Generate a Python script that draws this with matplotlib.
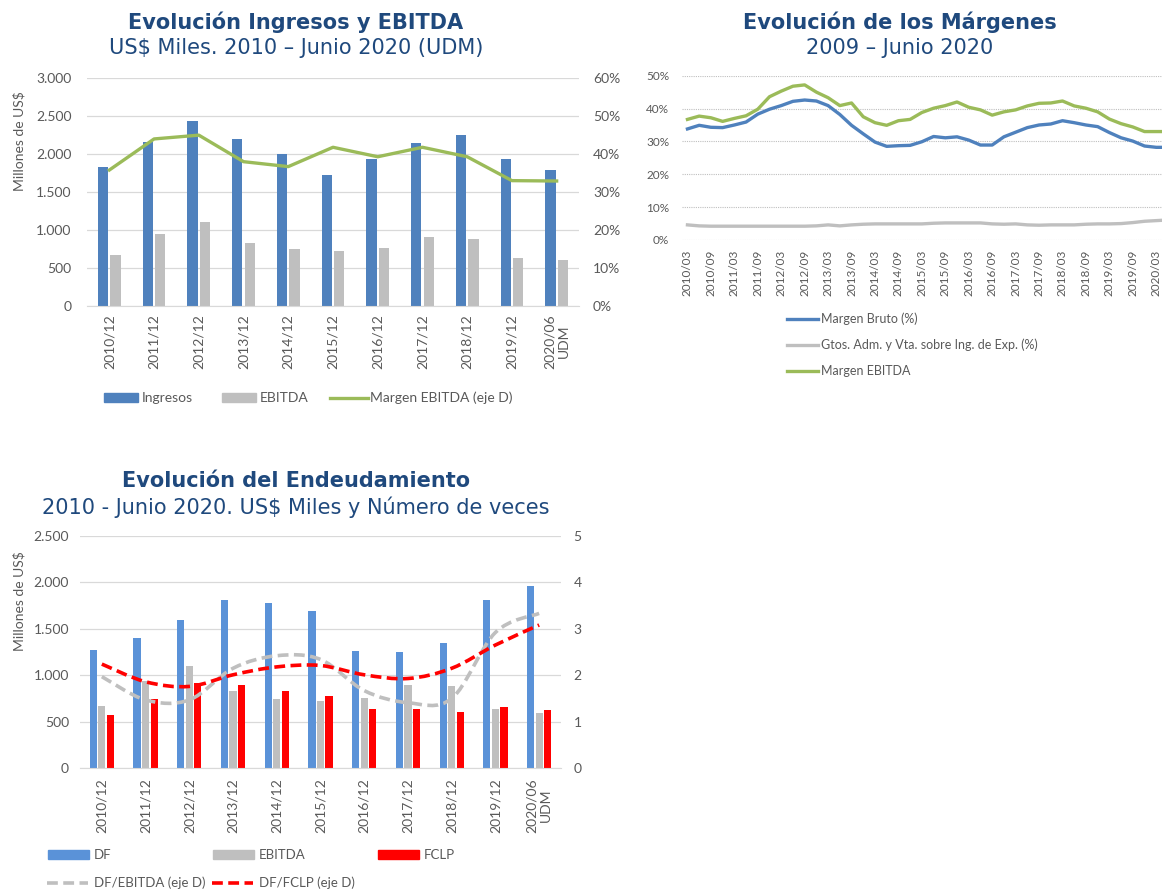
import numpy as np
import matplotlib
matplotlib.use("Agg")
from matplotlib import pyplot as plt
from matplotlib.path import Path
from matplotlib.patches import PathPatch, Patch
from matplotlib.lines import Line2D
from matplotlib.ticker import FuncFormatter

# --- data -------------------------------------------------------------
anios = ["2010/12", "2011/12", "2012/12", "2013/12", "2014/12", "2015/12",
         "2016/12", "2017/12", "2018/12", "2019/12", "2020/06\nUDM"]
ingresos = [1824, 2160, 2435, 2202, 2004, 1723, 1930, 2150, 2255, 1934, 1793]
ebitda = [667, 940, 1098, 830, 742, 720, 755, 900, 883, 632, 597]
margen_ebitda = [35.8, 44.0, 45.0, 38.0, 36.7, 41.8, 39.3, 41.8, 39.3, 33.0, 32.9]

trimestres = [f"{y}/{m:02d}" for y in range(2010, 2021) for m in (3, 6, 9, 12)][:42]
margen_bruto_q = [33.8, 34.9, 34.3, 34.2, 35.0, 35.9, 38.3, 39.8, 40.9, 42.2,
                  42.6, 42.3, 40.9, 38.2, 34.9, 32.3, 29.8, 28.5, 28.7, 28.8,
                  29.9, 31.5, 31.1, 31.4, 30.4, 28.9, 28.9, 31.4, 32.8, 34.2,
                  35.0, 35.3, 36.3, 35.7, 35.0, 34.5, 32.7, 31.1, 30.1, 28.6,
                  28.2, 28.2]
gtos_adm_q = [4.6, 4.3, 4.2, 4.2, 4.2, 4.2, 4.2, 4.2, 4.2, 4.2,
              4.2, 4.3, 4.6, 4.3, 4.6, 4.8, 4.9, 4.9, 4.9, 4.9,
              4.9, 5.1, 5.2, 5.2, 5.2, 5.2, 4.9, 4.8, 4.9, 4.6,
              4.5, 4.6, 4.6, 4.6, 4.8, 4.9, 4.9, 5.0, 5.3, 5.7,
              5.9, 6.1]
margen_ebitda_q = [36.7, 37.7, 37.2, 36.1, 37.0, 37.8, 39.8, 43.6, 45.3, 46.8,
                   47.2, 45.0, 43.3, 40.9, 41.7, 37.5, 35.7, 34.9, 36.3, 36.7,
                   38.8, 40.1, 40.9, 42.0, 40.4, 39.6, 38.0, 39.0, 39.6, 40.8,
                   41.6, 41.7, 42.3, 40.8, 40.1, 39.0, 36.8, 35.4, 34.4, 33.0,
                   33.0, 33.0]

deuda_fin = [1276, 1401, 1591, 1809, 1781, 1688, 1261, 1251, 1347, 1809, 1956]
fclp = [570, 740, 918, 896, 828, 774, 638, 638, 610, 663, 624]
df_ebitda = [1.97, 1.47, 1.47, 2.15, 2.42, 2.34, 1.67, 1.41, 1.50, 2.92, 3.33]
df_fclp = [2.24, 1.86, 1.76, 2.01, 2.18, 2.21, 2.01, 1.93, 2.15, 2.65, 3.08]

# --- style ------------------------------------------------------------
TXT = "#595959"
TITLE = "#1F497D"
BLUE = "#4F81BD"
BLUE2 = "#5A92D8"
GRAY = "#BFBFBF"
GREEN = "#9BBB59"
RED = "#FF0000"
GRID = "#D9D9D9"
DASH = (0, (3, 1.5))

plt.rcParams["font.family"] = ["Lato", "DejaVu Sans"]

W, H = 1162, 890
fig = plt.figure(figsize=(W / 100, H / 100), dpi=100)


def px_axes(left, top, right, bottom):
    return fig.add_axes([left / W, 1 - bottom / H, (right - left) / W, (bottom - top) / H])


def miles(v, _):
    return f"{v:,.0f}".replace(",", ".")


def smooth_path(xv, yv):
    """Catmull-Rom curve through the points, as cubic Bezier segments."""
    pts = np.column_stack([xv, yv]).astype(float)
    ext = np.vstack([pts[0], pts, pts[-1]])
    verts = [pts[0]]
    codes = [Path.MOVETO]
    for i in range(len(pts) - 1):
        p0, p1, p2, p3 = ext[i], ext[i + 1], ext[i + 2], ext[i + 3]
        verts += [p1 + (p2 - p0) / 6, p2 - (p3 - p1) / 6, p2]
        codes += [Path.CURVE4] * 3
    return Path(verts, codes)


def add_entry(handle, label, x, y, size=10, hl=2.5, pad=0.3):
    fig.legend(handles=[handle], labels=[label], loc="center left",
               bbox_to_anchor=(x / W, 1 - y / H), frameon=False, fontsize=size,
               handlelength=hl, handleheight=0.6, handletextpad=pad,
               borderpad=0, borderaxespad=0, labelcolor=TXT)


def title(x, y, text, bold):
    fig.text(x / W, 1 - y / H, text, ha="center", va="center", fontsize=15,
             color=TITLE, family="DejaVu Sans",
             fontweight="bold" if bold else "normal")


def clean(ax, bottom=True):
    for side in ["top", "left", "right"]:
        ax.spines[side].set_visible(False)
    ax.spines["bottom"].set_visible(bottom)
    ax.spines["bottom"].set_color(GRID)


# --- chart 1: ingresos y ebitda ---------------------------------------
title(296, 22, "Evolución Ingresos y EBITDA", True)
title(296, 48, "US$ Miles. 2010 – Junio 2020 (UDM)", False)

ax1 = px_axes(87, 78.3, 579, 305.7)
x = np.arange(len(anios))
ax1.bar(x - 0.14, ingresos, 0.23, color=BLUE, zorder=2)
ax1.bar(x + 0.14, ebitda, 0.23, color=GRAY, zorder=2)
ax1.set_xlim(-0.5, len(anios) - 0.5)
ax1.set_ylim(0, 3000)
ax1.set_yticks(np.arange(0, 3001, 500))
ax1.yaxis.set_major_formatter(FuncFormatter(miles))
ax1.grid(axis="y", color=GRID, lw=0.9, zorder=0)
ax1.set_axisbelow(True)
ax1.set_xticks(x, labels=anios, rotation=90)
for lbl in ax1.get_xticklabels():
    lbl.set_multialignment("center")
ax1.tick_params(axis="y", length=0, labelsize=10, colors=TXT, pad=11)
ax1.tick_params(axis="x", length=0, labelsize=10, colors=TXT, pad=6)
clean(ax1)

ax1b = ax1.twinx()
ax1b.plot(x, np.array(margen_ebitda) / 100, color=GREEN, lw=2.4, zorder=3)
ax1b.set_ylim(0, 0.6)
ax1b.set_yticks(np.arange(0, 0.61, 0.1))
ax1b.yaxis.set_major_formatter(FuncFormatter(lambda v, _: f"{v:.0%}"))
ax1b.tick_params(axis="y", length=0, labelsize=10, colors=TXT, pad=10)
clean(ax1b, bottom=False)

fig.text(19 / W, 1 - 141 / H, "Millones de US$", rotation=90, ha="center",
         va="center", fontsize=10, color=TXT)

add_entry(Patch(color=BLUE), "Ingresos", 104, 398, hl=2.45, pad=0.25)
add_entry(Patch(color=GRAY), "EBITDA", 222, 398, hl=2.45, pad=0.25)
add_entry(Line2D([], [], color=GREEN, lw=2.4), "Margen EBITDA (eje D)", 330, 398,
          hl=2.7, pad=0.15)

# --- chart 2: margenes ------------------------------------------------
title(900, 22, "Evolución de los Márgenes", True)
title(900, 48, "2009 – Junio 2020", False)

n_q = len(trimestres)
ax2 = px_axes(681.6, 75.7, 681.6 + n_q * 11.72, 240)
xq = np.arange(n_q)
ax2.plot(xq, np.array(gtos_adm_q) / 100, color=GRAY, lw=2.4)
ax2.plot(xq, np.array(margen_ebitda_q) / 100, color=GREEN, lw=2.4)
ax2.plot(xq, np.array(margen_bruto_q) / 100, color=BLUE, lw=2.4)
ax2.set_xlim(-0.5, n_q - 0.5)
ax2.set_ylim(0, 0.5)
ax2.set_yticks(np.arange(0, 0.51, 0.1))
ax2.yaxis.set_major_formatter(FuncFormatter(lambda v, _: f"{v:.0%}"))
ax2.grid(axis="y", color=GRAY, lw=0.8, ls=(0, (1, 1)))
ax2.set_axisbelow(True)
ax2.set_xticks(xq[::2], labels=trimestres[::2], rotation=90)
ax2.tick_params(axis="y", length=0, labelsize=8.5, colors=TXT, pad=9)
ax2.tick_params(axis="x", length=0, labelsize=8.5, colors=TXT, pad=7)
clean(ax2, bottom=False)

add_entry(Line2D([], [], color=BLUE, lw=2.4), "Margen Bruto (%)", 787, 319,
          size=9, hl=2.5, pad=0.25)
add_entry(Line2D([], [], color=GRAY, lw=2.4),
          "Gtos. Adm. y Vta. sobre Ing. de Exp. (%)", 787, 345, size=9, hl=2.5,
          pad=0.25)
add_entry(Line2D([], [], color=GREEN, lw=2.4), "Margen EBITDA", 787, 371,
          size=9, hl=2.5, pad=0.25)

# --- chart 3: endeudamiento -------------------------------------------
title(296, 481, "Evolución del Endeudamiento", True)
title(296, 507, "2010 - Junio 2020. US$ Miles y Número de veces", False)

ax3 = px_axes(80, 535.7, 561, 768.3)
ax3.bar(x - 0.195, deuda_fin, 0.165, color=BLUE2, zorder=2)
ax3.bar(x, ebitda, 0.165, color=GRAY, zorder=2)
ax3.bar(x + 0.195, fclp, 0.165, color=RED, zorder=2)
ax3.set_xlim(-0.5, len(anios) - 0.5)
ax3.set_ylim(0, 2500)
ax3.set_yticks(np.arange(0, 2501, 500))
ax3.yaxis.set_major_formatter(FuncFormatter(miles))
ax3.grid(axis="y", color=GRID, lw=0.9, zorder=0)
ax3.set_axisbelow(True)
ax3.set_xticks(x, labels=anios, rotation=90)
for lbl in ax3.get_xticklabels():
    lbl.set_multialignment("center")
ax3.tick_params(axis="y", length=0, labelsize=10, colors=TXT, pad=8)
ax3.tick_params(axis="x", length=0, labelsize=10, colors=TXT, pad=7)
clean(ax3)

ax3b = ax3.twinx()
ax3b.add_patch(PathPatch(smooth_path(x, df_ebitda), fill=False, edgecolor=GRAY,
                         lw=2.6, linestyle=DASH, zorder=3))
ax3b.add_patch(PathPatch(smooth_path(x, df_fclp), fill=False, edgecolor=RED,
                         lw=2.6, linestyle=DASH, zorder=4))
ax3b.set_ylim(0, 5)
ax3b.set_yticks(np.arange(0, 6, 1))
ax3b.tick_params(axis="y", length=0, labelsize=10, colors=TXT, pad=9)
clean(ax3b, bottom=False)

fig.text(19 / W, 1 - 601 / H, "Millones de US$", rotation=90, ha="center",
         va="center", fontsize=10, color=TXT)

add_entry(Patch(color=BLUE2), "DF", 48, 855, size=9.5, hl=3.1, pad=0.4)
add_entry(Patch(color=GRAY), "EBITDA", 213, 855, size=9.5, hl=3.1, pad=0.4)
add_entry(Patch(color=RED), "FCLP", 378, 855, size=9.5, hl=3.1, pad=0.4)
add_entry(Line2D([], [], color=GRAY, lw=2.6, ls=DASH), "DF/EBITDA (eje D)", 47, 883,
          size=9.5, hl=3.1, pad=0.45)
add_entry(Line2D([], [], color=RED, lw=2.6, ls=DASH), "DF/FCLP (eje D)", 212, 883,
          size=9.5, hl=3.1, pad=0.45)

fig.savefig("out.png", dpi=100)
